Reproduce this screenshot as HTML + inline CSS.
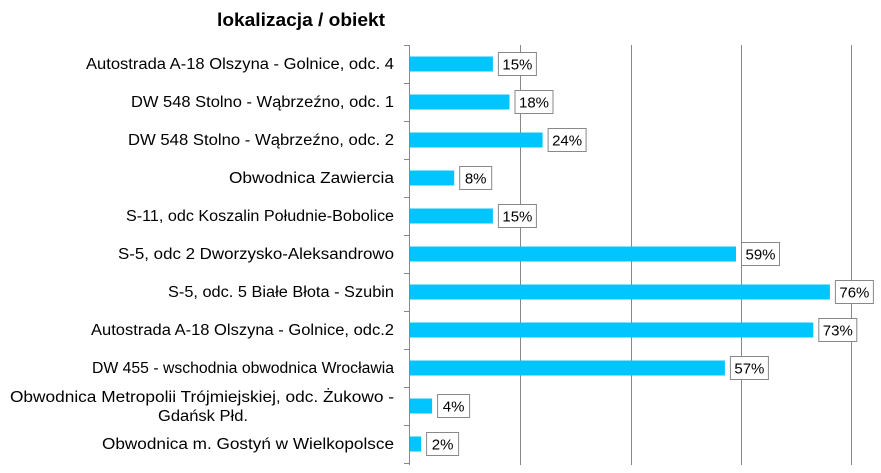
<!DOCTYPE html>
<html><head><meta charset="utf-8"><style>
body{margin:0;background:#fff}
svg{display:block}
text{font-family:"Liberation Sans",sans-serif;fill:#000}
.l{font-size:15.5px}
.v{font-size:15px;text-anchor:middle}
</style></head><body>
<svg width="881" height="473" xmlns="http://www.w3.org/2000/svg">
<text x="217" y="26" font-size="18" font-weight="bold" textLength="168" lengthAdjust="spacingAndGlyphs">lokalizacja / obiekt</text>
<g stroke="#888" stroke-width="1">
<line x1="520.5" y1="45" x2="520.5" y2="465"/>
<line x1="631.5" y1="45" x2="631.5" y2="465"/>
<line x1="741.5" y1="45" x2="741.5" y2="465"/>
<line x1="851.5" y1="45" x2="851.5" y2="465"/>
<line x1="409.5" y1="45" x2="409.5" y2="465"/>
<line x1="404" y1="45.5" x2="410" y2="45.5"/>
<line x1="404" y1="83.5" x2="410" y2="83.5"/>
<line x1="404" y1="121.5" x2="410" y2="121.5"/>
<line x1="404" y1="159.5" x2="410" y2="159.5"/>
<line x1="404" y1="197.5" x2="410" y2="197.5"/>
<line x1="404" y1="235.5" x2="410" y2="235.5"/>
<line x1="404" y1="273.5" x2="410" y2="273.5"/>
<line x1="404" y1="311.5" x2="410" y2="311.5"/>
<line x1="404" y1="349.5" x2="410" y2="349.5"/>
<line x1="404" y1="387.5" x2="410" y2="387.5"/>
<line x1="404" y1="425.5" x2="410" y2="425.5"/>
<line x1="404" y1="463.5" x2="410" y2="463.5"/>
</g>
<g fill="#00c5ff">
<rect x="410" y="56.5" width="82.9" height="15"/>
<rect x="410" y="94.5" width="99.5" height="15"/>
<rect x="410" y="132.5" width="132.6" height="15"/>
<rect x="410" y="170.5" width="44.2" height="15"/>
<rect x="410" y="208.5" width="82.9" height="15"/>
<rect x="410" y="246.5" width="326" height="15"/>
<rect x="410" y="284.5" width="419.9" height="15"/>
<rect x="410" y="322.5" width="403.3" height="15"/>
<rect x="410" y="360.5" width="314.9" height="15"/>
<rect x="410" y="398.5" width="22.1" height="15"/>
<rect x="410" y="436.5" width="11.1" height="15"/>
</g>
<g fill="#fff" stroke="#888">
<rect x="498.4" y="52.5" width="38" height="23"/>
<rect x="515" y="90.5" width="38" height="23"/>
<rect x="548.1" y="128.5" width="38" height="23"/>
<rect x="459.7" y="166.5" width="32" height="23"/>
<rect x="498.4" y="204.5" width="38" height="23"/>
<rect x="741.5" y="242.5" width="38" height="23"/>
<rect x="835.4" y="280.5" width="38" height="23"/>
<rect x="818.8" y="318.5" width="38" height="23"/>
<rect x="730.4" y="356.5" width="38" height="23"/>
<rect x="437.6" y="394.5" width="32" height="23"/>
<rect x="426.6" y="432.5" width="32" height="23"/>
</g>
<text class="v" x="517.4" y="69.5">15%</text>
<text class="v" x="534" y="107.5">18%</text>
<text class="v" x="567.1" y="145.5">24%</text>
<text class="v" x="475.7" y="183.5">8%</text>
<text class="v" x="517.4" y="221.5">15%</text>
<text class="v" x="760.5" y="259.5">59%</text>
<text class="v" x="854.4" y="297.5">76%</text>
<text class="v" x="837.8" y="335.5">73%</text>
<text class="v" x="749.4" y="373.5">57%</text>
<text class="v" x="453.6" y="411.5">4%</text>
<text class="v" x="442.6" y="449.5">2%</text>
<g lengthAdjust="spacingAndGlyphs">
<text class="l" x="86" y="69" textLength="308" lengthAdjust="spacingAndGlyphs">Autostrada A-18 Olszyna - Golnice, odc. 4</text>
<text class="l" x="131" y="107" textLength="263" lengthAdjust="spacingAndGlyphs">DW 548 Stolno - Wąbrzeźno, odc. 1</text>
<text class="l" x="128" y="145" textLength="266" lengthAdjust="spacingAndGlyphs">DW 548 Stolno - Wąbrzeźno, odc. 2</text>
<text class="l" x="229" y="183" textLength="165" lengthAdjust="spacingAndGlyphs">Obwodnica Zawiercia</text>
<text class="l" x="126" y="221" textLength="268" lengthAdjust="spacingAndGlyphs">S-11, odc Koszalin Południe-Bobolice</text>
<text class="l" x="118" y="259" textLength="276" lengthAdjust="spacingAndGlyphs">S-5, odc 2 Dworzysko-Aleksandrowo</text>
<text class="l" x="168" y="297" textLength="226" lengthAdjust="spacingAndGlyphs">S-5, odc. 5 Białe Błota - Szubin</text>
<text class="l" x="91" y="335" textLength="303" lengthAdjust="spacingAndGlyphs">Autostrada A-18 Olszyna - Golnice, odc.2</text>
<text class="l" x="92" y="373" textLength="302" lengthAdjust="spacingAndGlyphs">DW 455 - wschodnia obwodnica Wrocławia</text>
<text class="l" x="10" y="402" textLength="384" lengthAdjust="spacingAndGlyphs">Obwodnica Metropolii Trójmiejskiej, odc. Żukowo -</text>
<text class="l" x="158" y="421" textLength="90" lengthAdjust="spacingAndGlyphs">Gdańsk Płd.</text>
<text class="l" x="102" y="449" textLength="292" lengthAdjust="spacingAndGlyphs">Obwodnica m. Gostyń w Wielkopolsce</text>
</g>
</svg>
</body></html>
